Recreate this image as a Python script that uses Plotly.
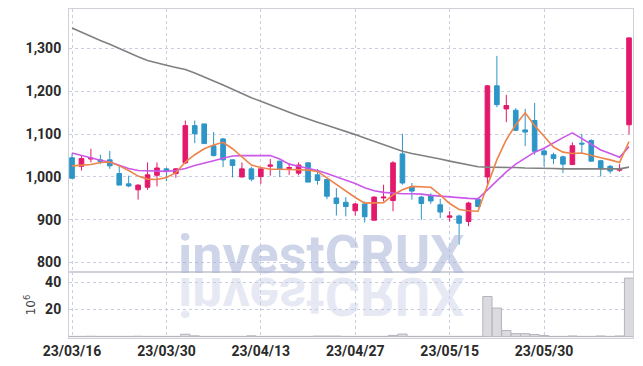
import plotly.graph_objects as go
from plotly.subplots import make_subplots

dates = ["23/03/16","23/03/17","23/03/20","23/03/21","23/03/22","23/03/23","23/03/24","23/03/27","23/03/28","23/03/29",
         "23/03/30","23/03/31","23/04/03","23/04/04","23/04/05","23/04/06","23/04/07","23/04/10","23/04/11","23/04/12",
         "23/04/13","23/04/14","23/04/17","23/04/18","23/04/19","23/04/20","23/04/21","23/04/24","23/04/25","23/04/26",
         "23/04/27","23/04/28","23/05/02","23/05/03","23/05/04","23/05/08","23/05/09","23/05/10","23/05/11","23/05/12",
         "23/05/15","23/05/16","23/05/17","23/05/18","23/05/19","23/05/22","23/05/23","23/05/24","23/05/25","23/05/26",
         "23/05/30","23/05/31","23/06/01","23/06/02","23/06/05","23/06/07","23/06/08","23/06/09","23/06/12","23/06/13"]

open_ = [1045,1025,1042,1040,1040,1008,984,970,976,1004,
         1019,1008,1033,1120,1124,1073,1089,1040,1000,1019,
         1001,1025,1037,1020,1009,1033,1005,994,951,941,
         921,937,899,951,945,1054,977,953,957,935,
         906,909,896,948,1000,1213,1159,1156,1110,1132,
         1061,1052,1047,1029,1079,1085,1038,1025,1016,1122]
close = [997,1043,1044,1036,1026,981,979,981,1005,1021,
         1013,1019,1120,1101,1078,1050,1040,1027,1019,995,
         1019,1028,1019,1022,1028,988,992,955,938,931,
         937,907,953,953,1033,986,967,938,944,918,
         909,892,939,931,1213,1169,1167,1109,1105,1060,
         1052,1043,1030,1073,1077,1037,1019,1014,1018,1325]
high = [1055,1050,1066,1052,1061,1028,1003,983,1034,1034,
        1022,1021,1132,1132,1124,1105,1091,1041,1034,1024,
        1020,1042,1038,1033,1034,1035,1019,996,974,953,
        939,943,955,982,1037,1101,986,956,962,949,
        920,912,942,952,1215,1283,1192,1161,1159,1173,
        1068,1057,1050,1081,1101,1088,1040,1028,1030,1326]
low = [996,1015,1034,1030,1019,981,976,947,970,978,
       990,998,1030,1079,1078,1048,1023,999,999,990,
       984,1003,1000,1005,1004,988,982,948,910,908,
       910,894,899,943,920,982,947,900,937,904,
       896,842,885,929,978,1163,1128,1108,1072,1052,
       1025,1030,1009,1028,1056,1036,1001,1008,1012,1100]
volume_m = [0.2,0.2,0.3,0.2,0.2,0.2,0.2,0.3,0.2,0.2,
            0.2,0.2,1.8,0.6,0.2,0.2,0.2,0.2,0.2,0.6,
            0.2,0.2,0.2,0.2,0.2,0.2,0.4,0.4,0.4,0.2,
            0.2,0.2,0.2,0.2,0.9,1.9,0.2,0.2,0.2,0.2,
            0.2,0.2,0.2,0.2,29.5,21.0,4.5,2.2,2.2,1.6,
            0.8,0.2,0.2,0.5,0.2,0.2,0.5,0.2,0.5,43.0]
ma_short = [1026,1027,1029,1034,1035,1026,1015,1002,995,994,
            999,1010,1035,1052,1066,1075,1081,1066,1046,1028,
            1022,1018,1018,1018,1017,1016,1013,998,982,966,
            952,939,939,940,958,970,978,977,976,958,
            938,924,921,920,980,1040,1087,1122,1150,1120,
            1095,1070,1058,1055,1056,1050,1045,1040,1034,1083]
ma_mid = [1056,1050,1045,1039,1035,1028,1020,1015,1014,1013,
          1013,1015,1020,1027,1032,1038,1044,1049,1050,1050,
          1050,1050,1042,1030,1025,1020,1015,1008,1000,992,
          985,975,968,964,962,961,961,960,957,955,
          953,951,950,949,970,993,1012,1030,1044,1058,
          1067,1080,1092,1103,1090,1077,1063,1055,1046,1071]
ma_long = [1348,1338,1329,1319,1310,1300,1291,1281,1272,1266,
           1261,1256,1251,1243,1234,1225,1215,1205,1195,1185,
           1177,1168,1160,1151,1143,1135,1128,1121,1114,1107,
           1099,1091,1083,1075,1067,1060,1055,1051,1046,1042,
           1037,1033,1028,1024,1023,1023,1022,1022,1021,1021,
           1020,1020,1019,1019,1019,1019,1019,1019,1019,1023]

tick_dates = ["23/03/16","23/03/30","23/04/13","23/04/27","23/05/15","23/05/30"]
price_ticks = [800, 900, 1000, 1100, 1200, 1300]
vol_ticks = [20, 40]

RED = "#e3196c"
BLUE = "#2e95c7"
GRID = "#c9cde0"
FRAME = "#cfd0d8"
FONT = "Roboto, Liberation Sans, sans-serif"
TICKFONT = dict(family=FONT, size=14, color="#2a2a2a", weight="bold")

fig = make_subplots(rows=2, cols=1, shared_xaxes=True, vertical_spacing=0,
                    row_heights=[0.7994, 0.2006])

fig.add_trace(go.Scatter(x=dates, y=ma_long, mode="lines",
                         line=dict(color="#808080", width=1.6), hoverinfo="skip"), row=1, col=1)
fig.add_trace(go.Candlestick(x=dates, open=open_, high=high, low=low, close=close,
                             increasing=dict(line=dict(color=RED, width=1), fillcolor=RED),
                             decreasing=dict(line=dict(color=BLUE, width=1), fillcolor=BLUE),
                             whiskerwidth=0), row=1, col=1)
fig.add_trace(go.Scatter(x=dates, y=ma_mid, mode="lines",
                         line=dict(color="#cc58ea", width=1.6), hoverinfo="skip"), row=1, col=1)
fig.add_trace(go.Scatter(x=dates, y=ma_short, mode="lines",
                         line=dict(color="#ee8448", width=1.6), hoverinfo="skip"), row=1, col=1)
fig.add_trace(go.Bar(x=dates, y=volume_m,
                     marker=dict(color="#dadadf", line=dict(color="#b4b4bc", width=1))),
              row=2, col=1)

axis_common = dict(showline=True, linecolor=FRAME, linewidth=1, mirror=True, automargin=False,
                   gridcolor=GRID, griddash="dot", gridwidth=1, zeroline=False, ticks="")

fig.update_xaxes(type="category", range=[-0.32, 59.42], tickvals=tick_dates, ticktext=tick_dates,
                 rangeslider=dict(visible=False), **axis_common)
fig.update_xaxes(showticklabels=False, row=1, col=1)
fig.update_xaxes(tickfont=TICKFONT, row=2, col=1)

fig.update_yaxes(range=[778, 1392.5], tickvals=price_ticks, tickformat=",d",
                 tickfont=TICKFONT, ticklabelstandoff=4, row=1, col=1, **axis_common)
fig.update_yaxes(range=[-1, 47.5], tickvals=vol_ticks, tickfont=TICKFONT, ticklabelstandoff=4,
                 title=dict(text="10<sup>6</sup>", font=dict(family="DejaVu Sans", size=12, color="#444"),
                            standoff=6),
                 row=2, col=1, **axis_common)

WM_FONT = dict(family="Roboto, Liberation Sans, sans-serif", size=54, weight="bold")
fig.add_annotation(text="investCRUX", xref="paper", yref="paper", x=0.447, y=0.255,
                   xanchor="center", yanchor="middle", showarrow=False,
                   font=dict(color="rgba(168,178,215,0.55)", **WM_FONT))
fig.add_annotation(text="investCRUX", xref="paper", yref="paper", x=0.447, y=0.125,
                   xanchor="center", yanchor="middle", showarrow=False,
                   font=dict(color="rgba(200,206,230,0.45)", **WM_FONT))

fig.update_layout(width=643, height=366, margin=dict(l=69, r=10, t=9, b=28, autoexpand=False),
                  paper_bgcolor="white", plot_bgcolor="white", showlegend=False,
                  bargap=0.02, font=dict(family=FONT, color="#2a2a2a"))

js = """
document.body.style.margin = '0';
document.body.style.padding = '0';
var gd = document.getElementById('{plot_id}');
function flipWM(){
  var t = gd.querySelector('g.annotation[data-index="1"] text');
  if(t){ t.style.transformBox='fill-box'; t.style.transformOrigin='50% 50%'; t.style.transform='scaleY(-1)'; }
}
flipWM();
if (gd.on) { gd.on('plotly_afterplot', flipWM); }
"""
fig.write_html("out.html", post_script=js, config={"displayModeBar": False})
